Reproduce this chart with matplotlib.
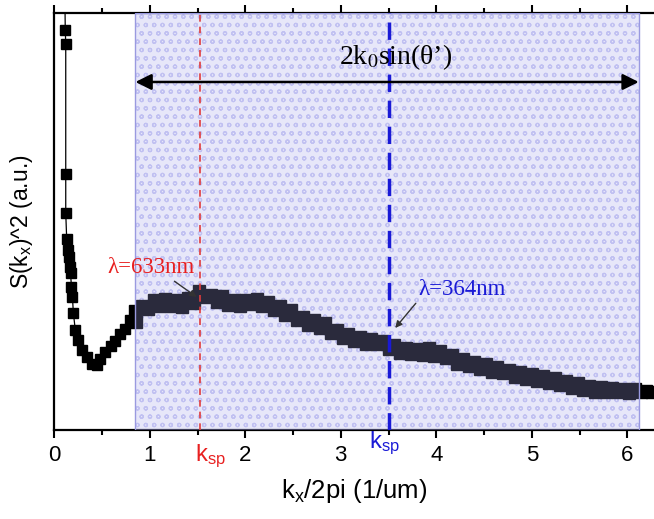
import numpy as np
import matplotlib
matplotlib.use('Agg')
import matplotlib.pyplot as plt
from matplotlib.patches import Rectangle

plt.rcParams['font.family'] = ['Liberation Sans', 'DejaVu Sans']
plt.rcParams['mathtext.fontset'] = 'custom'
plt.rcParams['mathtext.rm'] = 'Liberation Sans'
plt.rcParams['mathtext.it'] = 'Liberation Sans:italic'
plt.rcParams['hatch.linewidth'] = 0.9

# left branch (steep decay + dip), arbitrary units
k_left = [0.105, 0.115, 0.12, 0.12, 0.12, 0.13, 0.14, 0.15, 0.16, 0.17, 0.18, 0.19,
          0.20, 0.22, 0.25, 0.29, 0.34, 0.40, 0.45, 0.48, 0.53, 0.59, 0.64, 0.69,
          0.74, 0.79, 0.83]
s_left = [480, 400, 386, 256, 217, 191, 180, 173, 163, 157, 143, 133,
          117, 100, 90, 80, 73, 66, 65, 71, 78, 84, 89, 96,
          101, 110, 120]

# band inside the detection window
k_band = np.round(np.arange(0.86, 6.27, 0.06), 2)
s_band = [108, 124, 121, 130, 124, 131, 124, 130, 123, 132, 127, 139, 133, 135, 128,
          134, 125, 130, 124, 130, 126, 131, 124, 128, 120, 124, 115, 120, 110, 113,
          105, 110, 102, 107, 97, 100, 92, 96, 89, 93, 86, 91, 86, 89, 81,
          85, 77, 82, 76, 81, 75, 82, 74, 79, 72, 75, 66, 71, 64, 68,
          61, 66, 58, 63, 57, 60, 53, 58, 51, 56, 49, 54, 47, 52, 45,
          49, 42, 47, 40, 44, 38, 43, 38, 42, 38, 41, 37, 41, 38, 39, 38]

win_lo, win_hi = 0.85, 6.12
k_sp_633 = 1.53
k_sp_364 = 3.51
xticks = [0, 1, 2, 3, 4, 5, 6]

fig = plt.figure(figsize=(6.54, 5.19), dpi=100)
ax = fig.add_axes([0.083, 0.1715, 0.917, 0.8035])

# left part: thin line + squares
ax.plot(k_left + [k_band[0]], s_left + [s_band[0]], '-s', color='k', lw=0.9, ms=6.5, zorder=2)
# window part: dense squares forming a thick band
ax.plot(k_band, s_band[:len(k_band)], '-s', color='k', lw=4.5, ms=8.5, zorder=2)

# shaded window with circle pattern
ax.add_patch(Rectangle((win_lo, 0), win_hi - win_lo, 417,
                       facecolor='none', hatch='oo',
                       edgecolor=(0.7, 0.7, 0.94, 0.65), lw=0, zorder=1))
ax.add_patch(Rectangle((win_lo, 0), win_hi - win_lo, 417,
                       facecolor=(0.65, 0.65, 0.92), alpha=0.26,
                       edgecolor='none', zorder=3))
ax.add_patch(Rectangle((win_lo, 0), win_hi - win_lo, 417,
                       facecolor='none', edgecolor='#9a9ae0', lw=1.0, zorder=3))

ax.axvline(k_sp_633, color='#e03c3c', lw=1.2, ls=(0, (4, 3)), zorder=4)
ax.axvline(k_sp_364, color='#1a1ad6', lw=2.5, ls=(0, (5, 2.5)), zorder=4)

ax.annotate('', xy=(win_lo, 348), xytext=(win_hi, 348),
            arrowprops=dict(arrowstyle='<|-|>', color='k', lw=1.8,
                            mutation_scale=24, shrinkA=0, shrinkB=0), zorder=5)
ax.text(3.57, 373, "2k$_\\mathrm{0}$sin(\u03b8\u2019)",
        family='Liberation Serif', math_fontfamily='stix', fontsize=20,
        ha='center', va='center', zorder=5)

ax.annotate('\u03bb=633nm', xy=(1.49, 133), xytext=(0.56, 162),
            color='#e82020', family='Liberation Serif', fontsize=16.5,
            va='center', ha='left',
            arrowprops=dict(arrowstyle='-|>', color='#333333', lw=1,
                            mutation_scale=10, shrinkA=0, shrinkB=0,
                            relpos=(0.72, 0.0)), zorder=5)
ax.annotate('\u03bb=364nm', xy=(3.57, 102), xytext=(3.81, 140),
            color='#1a1ad6', family='Liberation Serif', fontsize=16.5,
            va='center', ha='left',
            arrowprops=dict(arrowstyle='-|>', color='#333333', lw=1,
                            mutation_scale=10, shrinkA=0, shrinkB=0,
                            relpos=(0.0, 0.0)), zorder=5)

# extra k_sp labels under the axis
ax.annotate('k$_\\mathrm{sp}$', xy=(k_sp_633 + 0.1, -0.062), xycoords=('data', 'axes fraction'),
            color='#e82020', fontsize=17, ha='center', va='center')
ax.annotate('k$_\\mathrm{sp}$', xy=(k_sp_364 - 0.05, -0.032), xycoords=('data', 'axes fraction'),
            color='#1a1ad6', fontsize=17, ha='center', va='center')

ax.set_xlim(0, 6.28)
ax.set_ylim(0, 417)
ax.set_xticks(xticks)
ax.set_xticks(np.arange(0.5, 6.3, 1.0), minor=True)
ax.set_yticks([])
ax.tick_params(axis='x', which='both', direction='out', top=True, labeltop=False,
               labelsize=16, width=1.5, pad=5)
ax.tick_params(axis='x', which='major', length=6)
ax.tick_params(axis='x', which='minor', length=3.5)
for side in ['left', 'bottom', 'top']:
    ax.spines[side].set_linewidth(1.6)
ax.spines['right'].set_visible(False)

ax.set_xlabel('k$_\\mathrm{x}$/2pi (1/um)', fontsize=18.5, labelpad=8)
ax.set_ylabel('S(k$_\\mathrm{x}$)^2 (a.u.)', fontsize=16.5, labelpad=14)

fig.savefig('out.png', dpi=100)
